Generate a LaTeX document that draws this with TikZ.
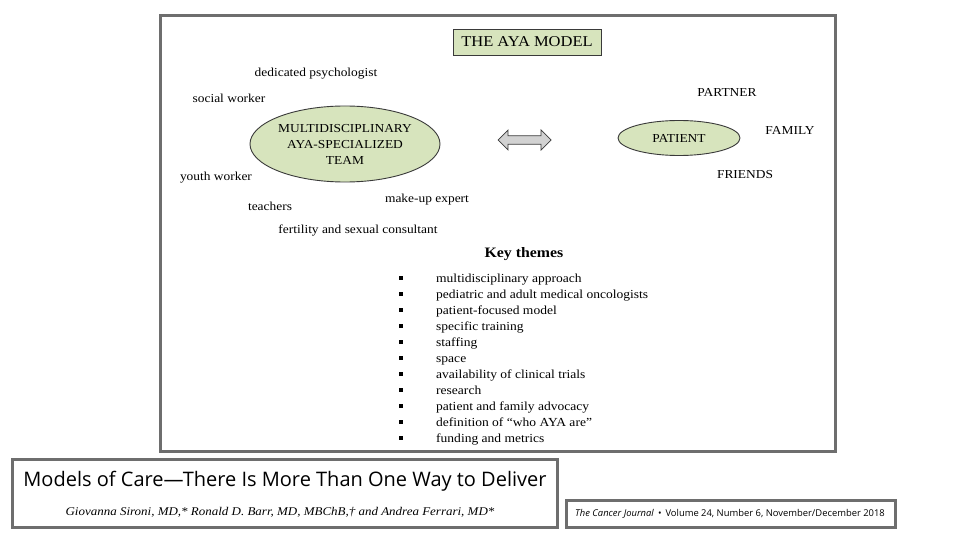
\documentclass[tikz,border=0pt]{standalone}
\usepackage{fontspec}
\setmainfont[FakeStretch=1.1]{Liberation Serif}
\newfontfamily\sansf{Open Sans}
\usetikzlibrary{shapes.geometric,shapes.arrows}
\definecolor{frame}{HTML}{6E6E6E}
\definecolor{boxgreen}{HTML}{D7E4BD}
\definecolor{edge}{HTML}{3A3A3A}
\tikzset{
  lbl/.style={font=\fontsize{12.2}{14}\selectfont, inner sep=0pt, text height=8.5pt, text depth=2.5pt, yshift=-1.5pt},
  item/.style={font=\fontsize{12.3}{14}\selectfont, inner sep=0pt, anchor=west, text height=8.5pt, text depth=2.5pt, yshift=-1pt},
  bul/.style={fill=black, minimum size=3.4pt, inner sep=0pt},
  greenell/.style={ellipse, draw=edge, line width=0.9pt, fill=boxgreen, inner sep=0pt, align=center, font=\fontsize{12.2}{16}\selectfont},
  framebox/.style={draw=frame, line width=3pt},
}
\begin{document}
\begin{tikzpicture}[x=1pt,y=-1pt]
\useasboundingbox (0,0) rectangle (960,540);
\fill[white] (0,0) rectangle (960,540);
% main frame
\node[framebox, minimum width=675pt, minimum height=436pt, inner sep=0pt] (main) at (498,233.5) {};
% title
\node[draw=edge, line width=0.8pt, fill=boxgreen, minimum width=148pt, minimum height=26pt, font=\fontsize{15}{17}\selectfont] (title) at (527,42) {THE AYA MODEL};
% team ellipse
\node[greenell, minimum width=190pt, minimum height=76pt] (team) at (345,144) {MULTIDISCIPLINARY\\AYA-SPECIALIZED\\TEAM};
\node[greenell, minimum width=122pt, minimum height=35pt] (patient) at (679,138) {PATIENT};
\node[double arrow, draw=edge, line width=0.7pt, fill=gray!35, minimum width=20pt, minimum height=53pt, double arrow head extend=4pt, inner sep=2.5pt] (arr) at (524.5,140) {};
% team labels
\node[lbl] (psy) at (316,72) {dedicated psychologist};
\node[lbl] (soc) at (229,98) {social worker};
\node[lbl] (youth) at (216,176) {youth worker};
\node[lbl] (teach) at (270,206) {teachers};
\node[lbl] (makeup) at (427,198) {make-up expert};
\node[lbl] (fert) at (358,229) {fertility and sexual consultant};
% patient labels
\node[lbl] (partner) at (727,92) {PARTNER};
\node[lbl] (family) at (790,130) {FAMILY};
\node[lbl] (friends) at (745,174) {FRIENDS};
% key themes
\node[inner sep=0pt, font=\bfseries\fontsize{14.4}{16}\selectfont] (key) at (524,254) {Key themes};
\foreach \t [count=\i from 0] in {multidisciplinary approach, pediatric and adult medical oncologists, patient-focused model, specific training, staffing, space, availability of clinical trials, research, patient and family advocacy, {definition of ``who AYA are''}, funding and metrics}{
  \node[bul] (b\i) at (401,278+16*\i) {};
  \node[item] (t\i) at (436,278+16*\i) {\t};
}
% bottom left box
\node[framebox, minimum width=545pt, minimum height=68pt, inner sep=0pt] (ref) at (284.5,493) {};
\node[inner sep=0pt, font=\sansf\fontsize{20}{22}\selectfont] (reftitle) at (285,481) {Models of Care—There Is More Than One Way to Deliver};
\node[inner sep=0pt, font=\itshape\fontsize{11.8}{13}\selectfont] (authors) at (280,512) {Giovanna Sironi, MD,* Ronald D. Barr, MD, MBChB,† and Andrea Ferrari, MD*};
% bottom right box
\node[framebox, minimum width=329pt, minimum height=27pt, inner sep=0pt] (jbox) at (730.5,513.5) {};
\node[inner sep=0pt, font=\sansf\fontsize{9.4}{11}\selectfont] (journal) at (730,513.5) {\textit{The Cancer Journal} \,\textbullet\, Volume 24, Number 6, November/December 2018};
\end{tikzpicture}
\end{document}
